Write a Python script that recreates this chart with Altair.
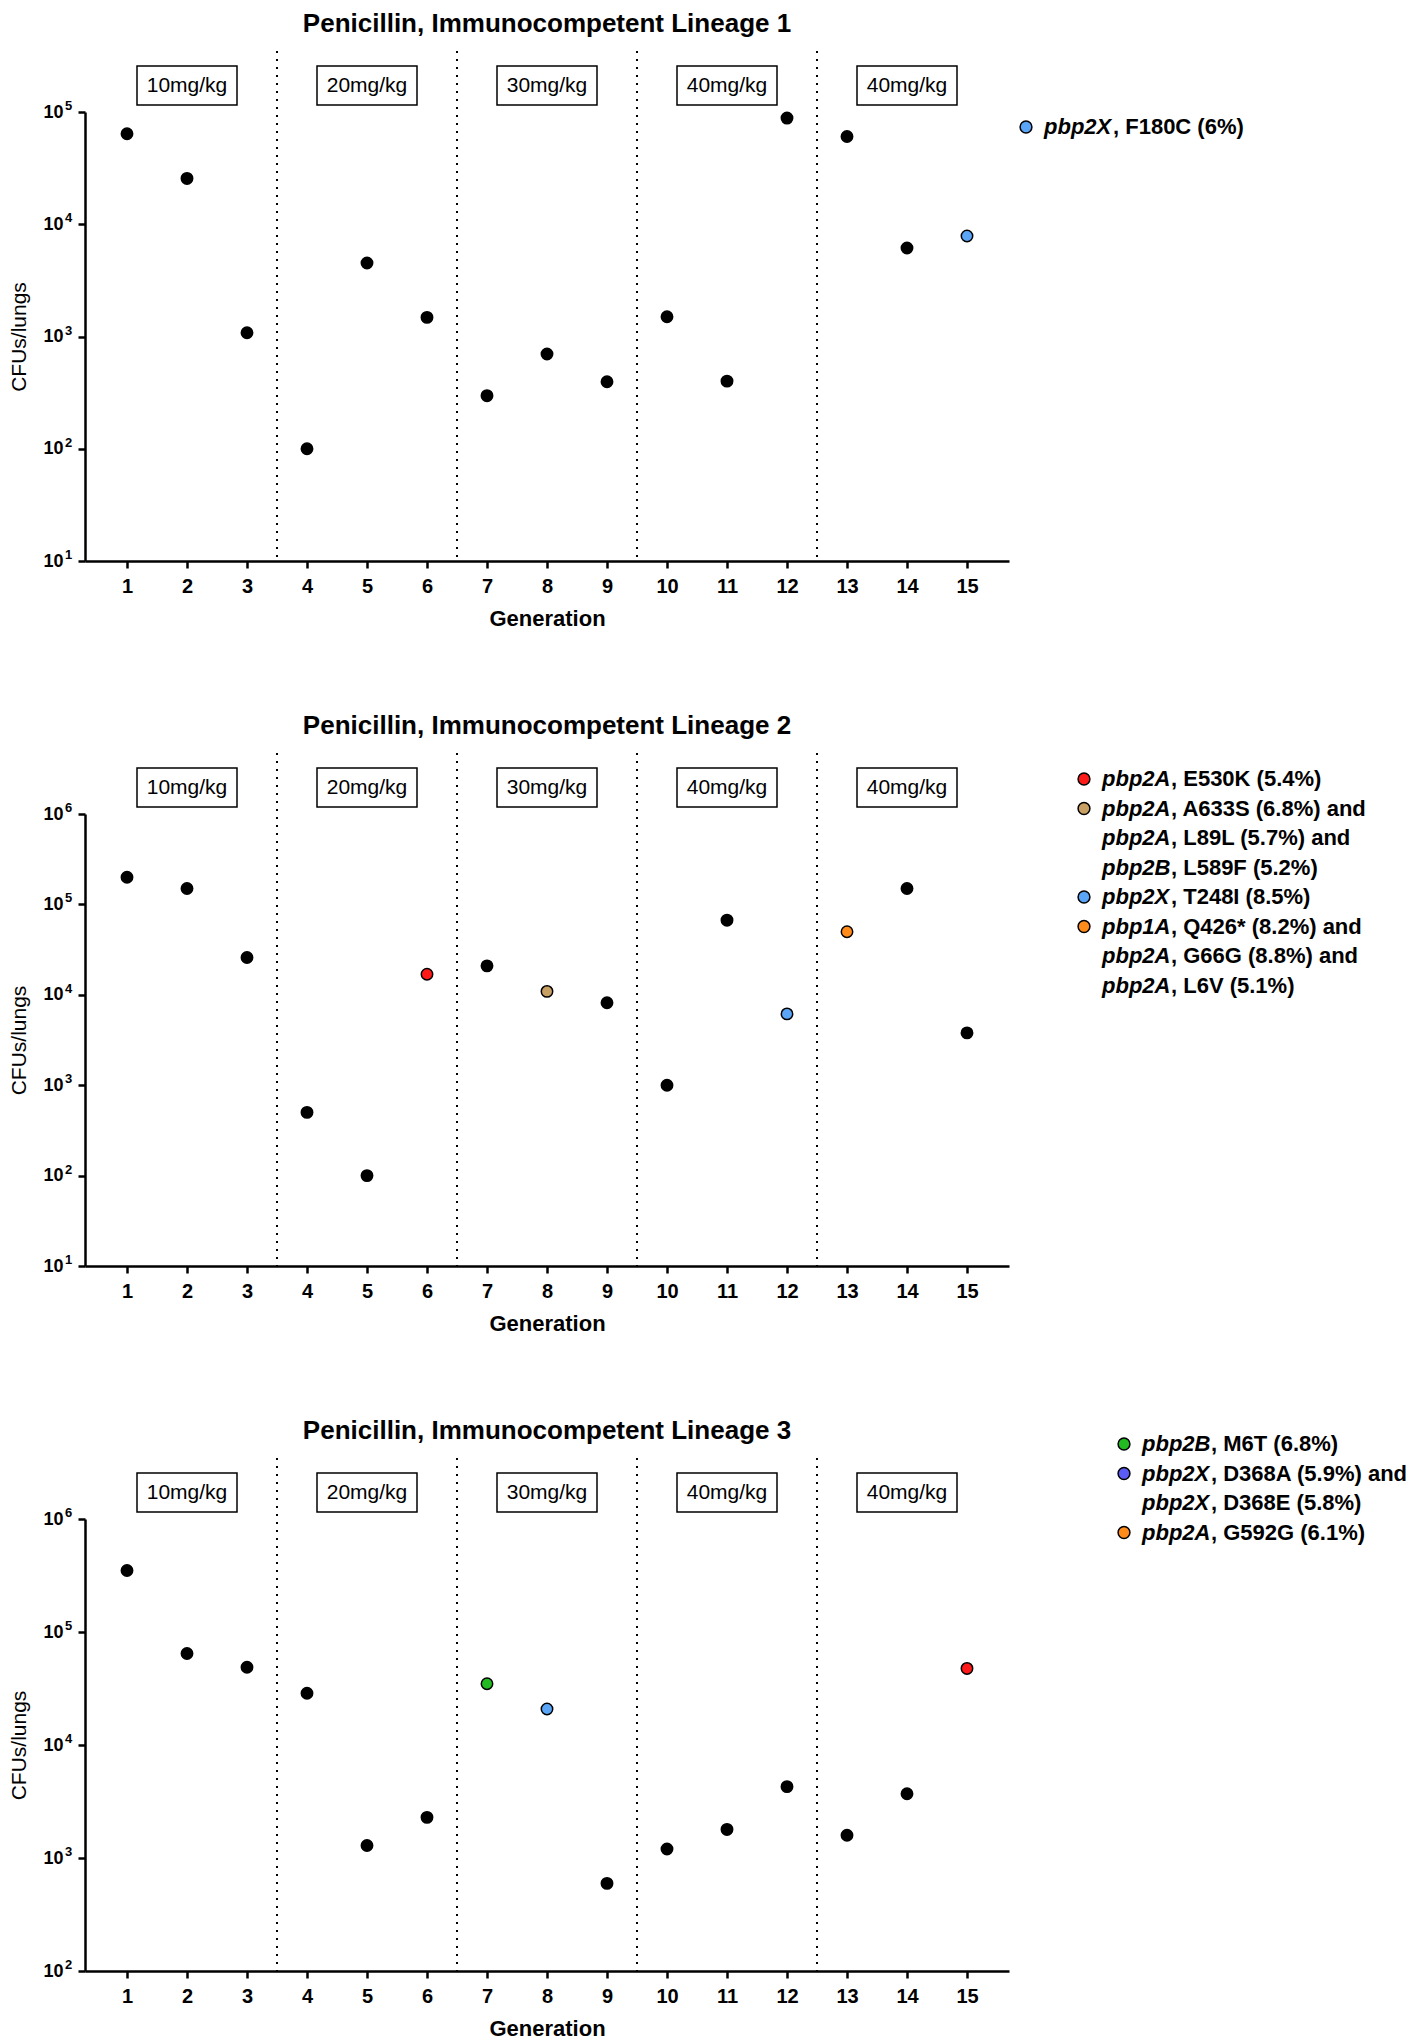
import altair as alt
import pandas as pd

# ---------------- data ----------------
GENERATIONS = list(range(1, 16))

L1_CFU = [64000, 25600, 1080, 100, 4520, 1480, 297, 698, 395, 1500, 400, 88300, 60500, 6150, 7860]
L1_FILL = ["black"] * 14 + ["#5aa5f5"]

L2_CFU = [200000, 150000, 25900, 500, 100, 16900, 20900, 10900, 8180, 1000, 66900, 6150, 49800, 150000, 3790]
L2_FILL = ["black"] * 5 + ["#ff1a1a", "black", "#c9a063", "black", "black", "black",
                            "#5aa5f5", "#ff8c1a", "black", "black"]

L3_CFU = [350000, 64500, 48800, 28700, 1290, 2290, 34800, 20800, 596, 1200, 1790, 4280, 1590, 3700, 47600]
L3_FILL = ["black"] * 6 + ["#22bb22", "#5aa5f5"] + ["black"] * 6 + ["#ff1a1a"]

TITLES = ["Penicillin, Immunocompetent Lineage 1",
          "Penicillin, Immunocompetent Lineage 2",
          "Penicillin, Immunocompetent Lineage 3"]

DOSE_LABELS = ["10mg/kg", "20mg/kg", "30mg/kg", "40mg/kg", "40mg/kg"]
DOSE_CENTERS = [2, 5, 8, 11, 14]
SEPARATORS = [3.5, 6.5, 9.5, 12.5]

Y_DOMAINS = [[10, 1e5], [10, 1e6], [100, 1e6]]
Y_TICKS = [[10, 100, 1000, 10000, 100000],
           [10, 100, 1000, 10000, 100000, 1000000],
           [100, 1000, 10000, 100000, 1000000]]
Y_EXPONENTS = [["1", "2", "3", "4", "5"],
               ["1", "2", "3", "4", "5", "6"],
               ["2", "3", "4", "5", "6"]]

LEGEND1 = [("#5aa5f5", "pbp2X", ", F180C (6%)")]
LEGEND2 = [("#ff1a1a", "pbp2A", ", E530K (5.4%)"),
           ("#c9a063", "pbp2A", ", A633S (6.8%) and"),
           ("", "pbp2A", ", L89L  (5.7%) and"),
           ("", "pbp2B", ", L589F (5.2%)"),
           ("#5aa5f5", "pbp2X", ", T248I (8.5%)"),
           ("#ff8c1a", "pbp1A", ", Q426* (8.2%) and"),
           ("", "pbp2A", ", G66G (8.8%) and"),
           ("", "pbp2A", ", L6V (5.1%)")]
LEGEND3 = [("#22bb22", "pbp2B", ", M6T (6.8%)"),
           ("#5b5bf5", "pbp2X", ", D368A (5.9%) and"),
           ("", "pbp2X", ", D368E (5.8%)"),
           ("#ff8c1a", "pbp2A", ", G592G (6.1%)")]

# ---------------- layout ----------------
W = 924
X_DOMAIN = [0.3, 15.7]
HEIGHTS = [449, 452, 452]
LEG_X = [941, 999, 1039]
LEG_Y0 = [15, -35, -75]
LEG_STEP = 29.5
FONT = "Liberation Sans"


def panel(cfu, fills, title, ydomain, yticks, yexps, height, legend, leg_x, leg_y0):
    xs = alt.Scale(domain=X_DOMAIN, nice=False, zero=False)
    ys = alt.Scale(type="log", domain=ydomain, nice=False)
    df = pd.DataFrame({"gen": GENERATIONS, "cfu": cfu, "fill": fills})

    x_axis = alt.Axis(values=GENERATIONS, format="d", title="Generation", grid=False,
                      labelFont=FONT, labelFontSize=20, labelFontWeight="bold",
                      labelColor="black", labelPadding=8, tickSize=7, tickWidth=2.5,
                      tickColor="black", domainColor="black", domainWidth=2.5,
                      titleFont=FONT, titleFontSize=22, titleFontWeight="bold",
                      titleColor="black", titleY=57, titleBaseline="middle",
                      labelFlush=False)
    y_axis = alt.Axis(values=yticks, title="CFUs/lungs", grid=False,
                      labelExpr="'10'", labelFont=FONT, labelFontSize=18,
                      labelFontWeight="bold", labelColor="black", labelPadding=15,
                      tickSize=7, tickWidth=2.5, tickColor="black",
                      domainColor="black", domainWidth=2.5,
                      titleFont=FONT, titleFontSize=21, titleFontWeight="normal",
                      titleColor="black", titleX=-66, titleY=height / 2,
                      titleAngle=270, titleAlign="center", titleBaseline="middle",
                      labelFlush=False)

    points = alt.Chart(df).mark_circle(size=130, stroke="black", strokeWidth=1.5,
                                        opacity=1).encode(
        x=alt.X("gen:Q", scale=xs, axis=x_axis),
        y=alt.Y("cfu:Q", scale=ys, axis=y_axis),
        color=alt.Color("fill:N", scale=None),
    )

    exp_df = pd.DataFrame({"cfu": yticks, "e": yexps})
    exps = alt.Chart(exp_df).mark_text(
        font=FONT, fontSize=13, fontWeight="bold", color="black",
        align="left", baseline="middle", dy=-6).encode(
        x=alt.value(-20),
        y=alt.Y("cfu:Q", scale=ys, title="CFUs/lungs"),
        text="e:N")

    seps = alt.Chart(pd.DataFrame({"gen": SEPARATORS})).mark_rule(
        color="black", strokeWidth=2, strokeDash=[2, 6]).encode(
        x=alt.X("gen:Q", scale=xs, title="Generation"),
        y=alt.value(-61), y2=alt.value(height))

    box_df = pd.DataFrame({"gen": DOSE_CENTERS, "label": DOSE_LABELS})
    boxes = alt.Chart(box_df).mark_point(
        shape="M-1,-0.39H1V0.39H-1Z", size=10000, filled=True, fill="white",
        stroke="black", strokeWidth=1.5, opacity=1).encode(
        x=alt.X("gen:Q", scale=xs, title="Generation"),
        y=alt.value(-26.5))
    box_text = alt.Chart(box_df).mark_text(
        font=FONT, fontSize=21, color="black", align="center", baseline="middle").encode(
        x=alt.X("gen:Q", scale=xs, title="Generation"),
        y=alt.value(-26), text="label:N")

    title_mark = alt.Chart(pd.DataFrame({"t": [title]})).mark_text(
        font=FONT, fontSize=26, fontWeight="bold", color="black",
        align="center", baseline="middle").encode(
        x=alt.value(W / 2), y=alt.value(-88), text="t:N")

    layers = [seps, boxes, box_text, points, exps, title_mark]

    for i, (col, gene, rest) in enumerate(legend):
        yy = leg_y0 + i * LEG_STEP
        if col:
            layers.append(alt.Chart(pd.DataFrame({"c": [col]})).mark_circle(
                size=140, stroke="black", strokeWidth=1.5, opacity=1).encode(
                x=alt.value(leg_x), y=alt.value(yy),
                color=alt.Color("c:N", scale=None)))
        layers.append(alt.Chart(pd.DataFrame({"t": [gene]})).mark_text(
            font=FONT, fontSize=22, fontWeight="bold", fontStyle="italic",
            color="black", align="left", baseline="middle").encode(
            x=alt.value(leg_x + 18), y=alt.value(yy), text="t:N"))
        layers.append(alt.Chart(pd.DataFrame({"t": [rest]})).mark_text(
            font=FONT, fontSize=22, fontWeight="bold",
            color="black", align="left", baseline="middle").encode(
            x=alt.value(leg_x + 18 + 69), y=alt.value(yy), text="t:N"))

    return alt.layer(*layers).properties(width=W, height=height)


p1 = panel(L1_CFU, L1_FILL, TITLES[0], Y_DOMAINS[0], Y_TICKS[0], Y_EXPONENTS[0],
           HEIGHTS[0], LEGEND1, LEG_X[0], LEG_Y0[0])
p2 = panel(L2_CFU, L2_FILL, TITLES[1], Y_DOMAINS[1], Y_TICKS[1], Y_EXPONENTS[1],
           HEIGHTS[1], LEGEND2, LEG_X[1], LEG_Y0[1])
p3 = panel(L3_CFU, L3_FILL, TITLES[2], Y_DOMAINS[2], Y_TICKS[2], Y_EXPONENTS[2],
           HEIGHTS[2], LEGEND3, LEG_X[2], LEG_Y0[2])

chart = alt.vconcat(p1, p2, p3, spacing=84).properties(
    padding={"top": 3, "left": 0, "right": 0, "bottom": 0}
).configure(font=FONT).configure_view(strokeWidth=0)

chart.save("out.html", embed_options={"renderer": "svg", "actions": False})
